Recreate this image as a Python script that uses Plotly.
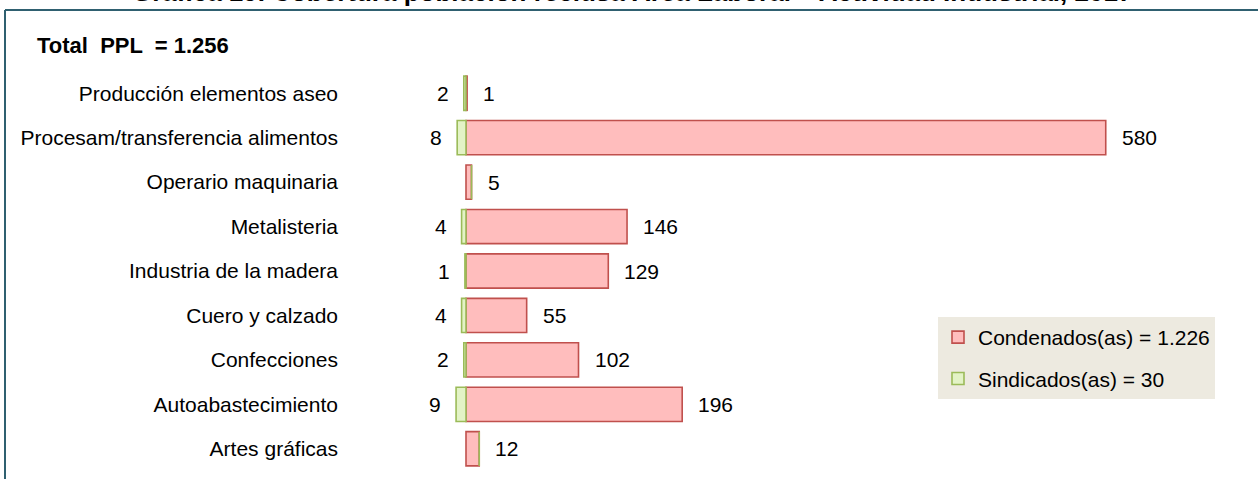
import plotly.graph_objects as go

categories = [
    "Producción elementos aseo",
    "Procesam/transferencia alimentos",
    "Operario maquinaria",
    "Metalisteria",
    "Industria de la madera",
    "Cuero y calzado",
    "Confecciones",
    "Autoabastecimiento",
    "Artes gráficas",
]
condenados = [1, 580, 5, 146, 129, 55, 102, 196, 12]
sindicados = [2, 8, 0, 4, 1, 4, 2, 9, 0]

title_text = "Gráfica 19. Cobertura población reclusa Área Laboral – Actividad Industrial, 2017"
total_text = "Total  PPL  = 1.256"
name_cond = "Condenados(as) = 1.226"
name_sind = "Sindicados(as) = 30"

W, H = 1258, 479
ML, MR, MT, MB = 345, 0, 71, 8
PW, PH = W - ML - MR, H - MT - MB
ZERO_PX = 466
SCALE = 1.103  # px per unit
x_lo = (ML - ZERO_PX) / SCALE
x_hi = (W - MR - ZERO_PX) / SCALE


def px_x(px):
    return (px - ML) / PW


def px_y(py):
    return (H - MB - py) / PH


FONT = "Arial, Liberation Sans, sans-serif"
FS = 21

fig = go.Figure()
fig.add_trace(go.Bar(
    y=categories, x=condenados, orientation="h", name=name_cond,
    marker=dict(color="#FFBDBD", line=dict(color="#C0504D", width=1.6)),
    width=0.77, legendgroup="c", hoverinfo="x+y",
))
fig.add_trace(go.Bar(
    y=categories, x=[-v for v in sindicados], orientation="h", name=name_sind,
    marker=dict(color="#E3F3C6", line=dict(color="#9BBB59", width=1.6)),
    width=0.77, legendgroup="s", hoverinfo="x+y",
))

annotations = []
for cat, v in zip(categories, condenados):
    if v:
        annotations.append(dict(x=v, y=cat, xref="x", yref="y", text=str(v),
                                showarrow=False, xanchor="left", xshift=14,
                                font=dict(family=FONT, size=FS, color="#000")))
for cat, v in zip(categories, sindicados):
    if v:
        annotations.append(dict(x=-v, y=cat, xref="x", yref="y", text=str(v),
                                showarrow=False, xanchor="right", xshift=-13,
                                font=dict(family=FONT, size=FS, color="#000")))

annotations.append(dict(x=px_x(632), y=px_y(9), xref="paper", yref="paper",
                        text="<b>" + title_text + "</b>", showarrow=False,
                        xanchor="center", yanchor="bottom",
                        font=dict(family=FONT, size=26, color="#000")))
annotations.append(dict(x=px_x(35), y=px_y(45), xref="paper", yref="paper",
                        text="<b>" + total_text + "</b>", showarrow=False,
                        xanchor="left", yanchor="middle",
                        font=dict(family=FONT, size=22, color="#000")))

frame_color = "#2F6070"
shapes = [
    dict(type="line", xref="paper", yref="paper", x0=px_x(5), x1=px_x(W + 5),
         y0=px_y(10), y1=px_y(10), line=dict(color=frame_color, width=2)),
    dict(type="line", xref="paper", yref="paper", x0=px_x(5), x1=px_x(5),
         y0=px_y(10), y1=px_y(H + 5), line=dict(color=frame_color, width=2)),
]

fig.update_layout(
    width=W, height=H,
    margin=dict(l=ML, r=MR, t=MT, b=MB),
    paper_bgcolor="white", plot_bgcolor="white",
    barmode="relative",
    font=dict(family=FONT, size=FS, color="#000"),
    xaxis=dict(range=[x_lo, x_hi], visible=False, fixedrange=True),
    yaxis=dict(categoryorder="array", categoryarray=categories,
               autorange="reversed", showgrid=False, zeroline=False,
               showline=False, ticks="", ticklabelstandoff=6,
               tickfont=dict(family=FONT, size=FS, color="#000")),
    legend=dict(x=px_x(938), y=px_y(317), xanchor="left", yanchor="top",
                bgcolor="#EDEAE0", borderwidth=0, traceorder="grouped",
                tracegroupgap=11, font=dict(family=FONT, size=FS, color="#000")),
    annotations=annotations,
    shapes=shapes,
    showlegend=True,
)

fig.write_html(
    "out.html",
    config={"displayModeBar": False},
    post_script="document.body.style.margin='0';document.body.style.overflow='hidden';",
)
